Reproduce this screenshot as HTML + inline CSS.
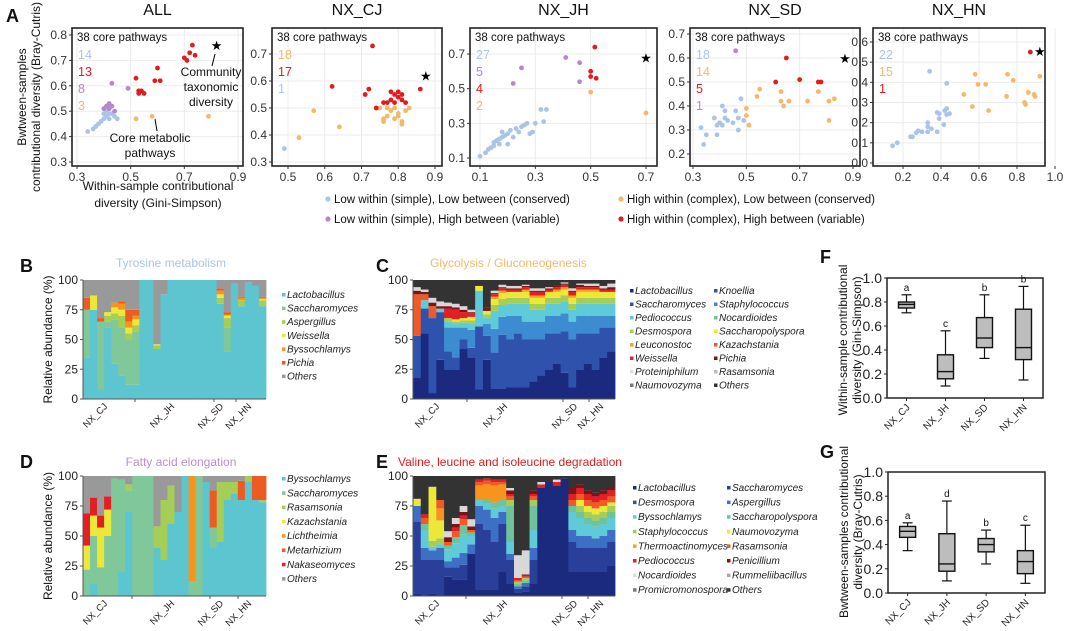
<!DOCTYPE html>
<html><head><meta charset="utf-8">
<style>
html,body{margin:0;padding:0;background:#fff;}
svg{display:block;font-family:"Liberation Sans",Arial,sans-serif;}
</style></head>
<body>
<svg id="fig" width="1080" height="631" viewBox="0 0 1080 631" xmlns="http://www.w3.org/2000/svg"></svg>
<script>
// ---------- Panel A scatter data ----------
const allX=[.34,.36,.37,.38,.39,.40,.41,.42,.43,.44,.42,.41,.40,.45, .43,.49,.41,.42,.43,.42,.44,.40, .52,.58,.79, .52,.53,.53,.54,.55,.60,.59,.61,.70,.71,.72,.73,.74];
const allY=[.42,.43,.44,.45,.46,.47,.48,.49,.49,.48,.47,.50,.49,.47, .61,.59,.52,.51,.52,.53,.50,.51, .47,.48,.48, .63,.58,.57,.58,.57,.67,.62,.62,.71,.70,.73,.76,.72];
const allG=[0,0,0,0,0,0,0,0,0,0,0,0,0,0, 1,1,1,1,1,1,1,1, 2,2,2, 3,3,3,3,3,3,3,3,3,3,3,3,3];
const cjX=[.49, .53,.57,.64,.75,.76,.76,.77,.78,.79,.80,.81,.80,.82,.83,.81,.77,.79,.76, .73,.62,.71,.72,.74,.76,.77,.78,.78,.79,.80,.80,.81,.82,.86,.79,.81];
const cjY=[.35, .39,.49,.43,.50,.46,.45,.47,.49,.46,.48,.45,.47,.49,.50,.44,.50,.50,.45, .73,.58,.55,.57,.50,.52,.52,.53,.56,.55,.54,.56,.53,.52,.57,.52,.55];
const cjG=[0, 2,2,2,2,2,2,2,2,2,2,2,2,2,2,2,2,2,2, 3,3,3,3,3,3,3,3,3,3,3,3,3,3,3,3,3];
const jhX=[.10,.12,.13,.14,.15,.15,.16,.17,.17,.18,.19,.18,.20,.21,.22,.23,.24,.25,.26,.27,.28,.29,.30,.32,.34,.33,.20, .22,.25,.41,.46,.46, .515,.50,.50,.52, .50,.70];
const jhY=[.11,.13,.15,.16,.17,.19,.20,.18,.21,.22,.23,.25,.24,.26,.22,.27,.25,.28,.29,.30,.24,.25,.30,.38,.38,.31,.18, .53,.62,.68,.65,.54, .74,.60,.57,.56, .48,.36];
const jhG=[0,0,0,0,0,0,0,0,0,0,0,0,0,0,0,0,0,0,0,0,0,0,0,0,0,0,0, 1,1,1,1,1, 3,3,3,3, 2,2];
const sdX=[.33,.34,.35,.38,.39,.39,.40,.41,.42,.42,.41,.43,.45,.46,.47,.47,.48,.49, .46, .50,.51,.50,.54,.55,.63,.63,.64,.66,.73,.77,.81,.83,.81, .61,.65,.70,.77,.78];
const sdY=[.31,.24,.28,.35,.32,.28,.33,.40,.38,.35,.32,.34,.33,.38,.35,.30,.43,.34, .63, .39,.32,.36,.44,.47,.46,.42,.40,.42,.42,.46,.42,.43,.34, .50,.60,.51,.50,.50];
const sdG=[0,0,0,0,0,0,0,0,0,0,0,0,0,0,0,0,0,0, 1, 2,2,2,2,2,2,2,2,2,2,2,2,2,2, 3,3,3,3,3];
const hnX=[.145,.17,.24,.25,.27,.28,.30,.33,.33,.33,.35,.38,.39,.38,.39,.42,.43,.43,.445,.415,.34,.43, .52,.565,.58,.595,.635,.65,.75,.745,.78,.84,.845,.86,.89,.895,.92, .87];
const hnY=[.085,.10,.13,.13,.15,.16,.155,.18,.20,.155,.17,.25,.22,.155,.245,.26,.24,.27,.245,.19,.455,.395, .34,.28,.44,.39,.39,.26,.44,.33,.41,.30,.29,.35,.34,.33,.43, .55];
const hnG=[0,0,0,0,0,0,0,0,0,0,0,0,0,0,0,0,0,0,0,0,0,0, 2,2,2,2,2,2,2,2,2,2,2,2,2,2,2, 3];
const starX=[.82,.875,.70,.87,.92];
const starY=[.76,.62,.68,.60,.555];

// ---------- Panel B ----------
const bNames=["Lactobacillus","Saccharomyces","Aspergillus","Weissella","Byssochlamys","Pichia","Others"];
const bLacto=[35,75,8,60,30,20,12,12,100,100,42,88,100,100,100,100,100,100,100,80,40,97,78,98,95,78];
const bSacch=[40,0,57,5,37,40,38,45,0,0,0,0,0,0,0,0,0,0,0,0,20,0,0,0,0,0];
const bAsper=[0,0,0,5,5,10,5,5,0,0,3,0,0,0,0,0,0,0,0,5,8,0,5,0,0,5];
const bWeiss=[0,12,0,3,5,5,5,5,0,0,1,0,0,0,0,0,0,0,0,3,2,0,0,0,0,1];
const bByss=[0,0,0,0,4,5,5,3,0,0,0,0,0,0,0,0,0,0,0,3,1,0,2,0,0,1];
const bPichia=[10,0,3,0,0,2,10,5,0,0,0,0,0,0,0,0,0,0,0,2,2,0,1,0,0,1];
const bOthers=[15,13,32,27,19,18,25,25,0,0,54,12,0,0,0,0,0,0,0,7,27,3,14,2,5,14];

// ---------- Panel D ----------
const dNames=["Byssochlamys","Saccharomyces","Rasamsonia","Kazachstania","Lichtheimia","Metarhizium","Nakaseomyces","Others"];
const dByss=[0,10,0,0,0,20,70,0,0,0,40,30,60,70,100,0,0,95,40,45,80,85,80,95,80,78];
const dSacch=[22,40,24,50,98,77,18,100,100,100,0,0,0,0,0,12,100,0,17,0,0,0,0,0,0,0];
const dRasam=[0,0,0,0,0,0,5,0,0,0,18,50,32,0,0,0,0,0,0,50,15,10,0,5,0,2];
const dKazach=[20,17,33,22,0,0,0,0,0,0,0,0,0,0,0,0,0,0,0,0,0,0,0,0,0,0];
const dLicht=[0,0,0,0,0,0,0,0,0,0,0,0,0,0,0,88,0,0,0,0,0,0,0,0,0,0];
const dMetar=[0,0,0,0,0,0,0,0,0,0,0,0,0,0,0,0,0,0,31,0,0,0,16,0,20,20];
const dNakas=[27,15,10,11,0,0,0,0,0,0,0,0,0,0,0,0,0,0,0,0,0,0,0,0,0,0];
const dOthers=[31,18,33,17,2,3,7,0,0,0,42,20,8,30,0,0,0,5,12,5,5,5,4,0,0,0];

// ---------- Panel C ----------
const cNames=["Lactobacillus","Saccharomyces","Pediococcus","Desmospora","Leuconostoc","Weissella","Proteiniphilum","Naumovozyma","Knoellia","Staphylococcus","Nocardioides","Saccharopolyspora","Kazachstania","Pichia","Rasamsonia","Others"];
const cLacto=[18,55,5,33,25,25,42,35,8,33,9,9,10,10,10,15,20,25,30,22,10,25,30,25,35,40];
const cSacch=[35,21,63,40,15,10,8,8,53,20,30,45,40,45,40,35,30,30,25,35,40,30,25,30,25,20];
const cStaph=[0,0,0,0,20,25,10,15,0,10,20,15,20,15,15,15,15,15,15,15,15,15,15,15,10,10];
const cPedio=[0,7,0,3,5,3,4,5,30,5,15,10,10,10,15,10,10,10,10,10,10,10,10,10,10,10];
const cDesmo=[0,0,0,0,3,2,2,3,0,3,5,5,5,5,5,5,5,5,5,5,5,5,5,5,5,5];
const cSaccpoly=[0,0,0,0,0,2,2,3,4,3,5,5,5,5,5,5,5,5,5,5,5,5,5,5,5,5];
const cLeuco=[0,0,0,0,0,0,0,0,0,0,2,2,0,0,2,2,2,0,2,2,2,2,2,2,0,0];
const cKazach=[35,5,10,0,0,0,0,0,0,0,0,0,0,0,0,0,0,0,0,0,0,0,0,0,0,0];
const cWeiss=[0,0,0,0,8,8,5,3,0,0,2,2,2,2,2,3,3,2,2,2,3,2,2,2,2,2];
const cPichia=[3,2,3,2,2,2,2,1,0,3,1,1,1,1,1,1,1,1,1,1,1,2,1,1,1,2];
const cProt=[3,2,4,4,3,3,3,2,0,0,2,2,2,2,1,2,2,1,0,1,2,1,2,2,2,3];
const cOthers=[6,8,15,18,19,20,22,25,5,23,9,4,5,5,4,7,7,6,5,2,7,3,3,3,5,3];

// ---------- Panel E ----------
const eNames=["Lactobacillus","Desmospora","Byssochlamys","Staphylococcus","Thermoactinomyces","Pediococcus","Nocardioides","Promicromonospora","Saccharomyces","Aspergillus","Saccharopolyspora","Naumovozyma","Rasamsonia","Penicillium","Rummeliibacillus","Others"];
const eLacto=[2,0,2,0,16,14,14,35,5,5,5,20,10,3,4,10,90,95,92,98,20,20,20,20,20,25];
const eSacch=[60,30,28,30,8,10,12,0,55,50,40,40,20,3,4,20,0,0,0,0,25,20,20,20,20,20];
const eAsper=[13,10,8,10,5,8,10,8,15,17,20,10,5,2,3,10,0,0,0,0,10,10,10,8,10,10];
const eByss=[0,15,3,3,10,12,15,7,5,5,8,5,10,0,0,15,0,0,0,0,15,15,10,10,10,10];
const eSaccpoly=[0,5,0,0,3,5,8,3,0,3,5,5,30,2,2,20,0,0,0,0,5,5,5,5,5,5];
const eStaph=[0,0,5,5,0,0,0,0,0,0,0,0,5,2,2,5,0,0,0,0,0,5,5,5,5,5];
const eNaumo=[6,0,45,15,0,0,0,0,0,0,0,0,0,0,0,0,0,0,0,0,0,5,5,5,5,3];
const eThermo=[0,0,0,10,0,0,0,0,12,13,14,13,0,0,0,0,0,0,0,0,0,0,0,0,0,0];
const eRasam=[0,5,0,7,3,5,5,2,3,3,3,2,3,1,1,3,0,0,0,0,5,5,5,5,5,5];
const ePedio=[0,3,0,0,0,3,3,0,2,2,2,2,2,2,1,2,3,0,3,0,5,5,5,5,5,5];
const ePenic=[0,0,0,0,4,3,3,3,0,0,0,0,3,0,1,3,0,0,0,0,5,3,3,3,3,2];
const eNocard=[0,0,0,0,5,5,5,6,0,0,0,0,2,19,20,0,2,0,2,0,0,0,0,0,0,0];
const eOthers=[19,32,9,20,46,35,25,36,3,2,3,3,10,66,62,12,5,5,3,2,10,7,12,14,12,10];

// ---------- Panels F, G ----------
const boxCats=["NX_CJ","NX_JH","NX_SD","NX_HN"];
const fMin=[.71,.10,.33,.15], fQ1=[.75,.16,.42,.32], fMed=[.78,.22,.50,.42], fQ3=[.80,.36,.67,.74], fMax=[.86,.56,.86,.93];
const fLetters=["a","c","b","b"];
const gMin=[.35,.10,.24,.08], gQ1=[.46,.18,.34,.16], gMed=[.51,.24,.40,.26], gQ3=[.55,.49,.45,.35], gMax=[.58,.76,.52,.56];
const gLetters=["a","d","b","c"];
const boxTicks=[0,0.2,0.4,0.6,0.8,1.0];
const barTicks=[0,25,50,75,100];

// ================= drawing =================
const NS='http://www.w3.org/2000/svg';
const svg=document.getElementById('fig');
function mk(tag,attrs,parent){const e=document.createElementNS(NS,tag);for(const k in attrs)e.setAttribute(k,attrs[k]);(parent||svg).appendChild(e);return e;}
function txt(x,y,s,size,extra,parent){const e=mk('text',Object.assign({x:x,y:y,'font-size':size,fill:'#111'},extra||{}),parent);e.textContent=s;return e;}
function lin(a,b,c,d){return v=>c+(v-a)/(b-a)*(d-c);}

[["A",6,22],["B",20,272],["C",376,272],["D",20,468],["E",376,468],["F",820,263],["G",820,458]].forEach(p=>{
  const t=txt(p[1],p[2],p[0],18,{'font-weight':'bold'});
  
  
});

const catColors=['#a9c4e8','#b586cc','#f5b86b','#e41a1c'];
const scatterPanels=[
 {id:'all',title:'ALL',box:[72,28,243,166],xs:[0.3,0.9,77,238],ys:[0.3,0.8,162,35],xt:[0.3,0.5,0.7,0.9],yt:[0.3,0.4,0.5,0.6,0.7,0.8],X:allX,Y:allY,G:allG,counts:[['14',0],['13',3],['8',1],['3',2]]},
 {id:'nx-cj',title:'NX_CJ',box:[272,28,442,166],xs:[0.5,0.9,288,435],ys:[0.3,0.7,162,54],xt:[0.5,0.6,0.7,0.8,0.9],yt:[0.3,0.4,0.5,0.6,0.7],X:cjX,Y:cjY,G:cjG,counts:[['18',2],['17',3],['1',0]]},
 {id:'nx-jh',title:'NX_JH',box:[470,28,657,166],xs:[0.1,0.7,480,646],ys:[0.1,0.7,158,54],xt:[0.1,0.3,0.5,0.7],yt:[0.1,0.3,0.5,0.7],X:jhX,Y:jhY,G:jhG,counts:[['27',0],['5',1],['4',3],['2',2]]},
 {id:'nx-sd',title:'NX_SD',box:[690,28,860,166],xs:[0.3,0.9,693,853],ys:[0.2,0.7,154,34],xt:[0.3,0.5,0.7,0.9],yt:[0.2,0.3,0.4,0.5,0.6,0.7],X:sdX,Y:sdY,G:sdG,counts:[['18',0],['14',2],['5',3],['1',1]]},
 {id:'nx-hn',title:'NX_HN',box:[873,28,1045,166],xs:[0.2,1.0,903,1055],ys:[0,0.6,163,42],xt:[0.2,0.4,0.6,0.8,1.0],yt:[0,0.1,0.2,0.3,0.4,0.5,0.6],X:hnX,Y:hnY,G:hnG,counts:[['22',0],['15',2],['1',3]]}
];
scatterPanels.forEach((p,pi)=>{
  const g=mk('g',{});
  
  
  const [x0,y0,x1,y1]=p.box;
  const sx=lin(...p.xs), sy=lin(...p.ys);
  const t=txt((x0+x1)/2,15,p.title,16,{'text-anchor':'middle'},g);
  
  
  p.xt.forEach(v=>{mk('line',{x1:sx(v),x2:sx(v),y1:y0,y2:y1,stroke:'#ebebeb','stroke-width':1},g);});
  p.yt.forEach(v=>{mk('line',{x1:x0,x2:x1,y1:sy(v),y2:sy(v),stroke:'#ebebeb','stroke-width':1},g);});
  const fr=mk('rect',{x:x0,y:y0,width:x1-x0,height:y1-y0,fill:'none',stroke:'#222','stroke-width':1.6},g);
  
  
  p.xt.forEach(v=>{mk('line',{x1:sx(v),x2:sx(v),y1:y1,y2:y1+3,stroke:'#333'},g);
    const tl=txt(sx(v),y1+15,v.toFixed(1),12,{'text-anchor':'middle',fill:'#333'},g);
    
    });
  p.yt.forEach(v=>{mk('line',{x1:x0-3,x2:x0,y1:sy(v),y2:sy(v),stroke:'#333'},g);
    const tl=txt(x0-5,sy(v)+4,v.toFixed(1),12,{'text-anchor':'end',fill:'#333'},g);
    
    });
  const ct=txt(x0+5,y0+13,'38 core pathways',11.5,{},g);
  
  
  p.counts.forEach((c,i)=>{const e=txt(x0+6,y0+31+i*17,c[0],12.5,{fill:catColors[c[1]]},g);
    
    });
  p.X.forEach((v,i)=>{const d=mk('circle',{cx:sx(v),cy:sy(p.Y[i]),r:2.4,fill:catColors[p.G[i]]},g);
    
    });
  const st=txt(sx(starX[pi]),sy(starY[pi])+5,'★',13,{'text-anchor':'middle',fill:'#000'},g);
  
  
});
mk('line',{x1:215,y1:54,x2:212,y2:66,stroke:'#000','stroke-width':1});
mk('line',{x1:155,y1:119,x2:157,y2:131,stroke:'#000','stroke-width':1});
['Community','taxonomic','diversity'].forEach((s,i)=>{const e=txt(211,76+i*15,s,12,{'text-anchor':'middle'});
  
  });
['Core metabolic','pathways'].forEach((s,i)=>{const e=txt(150,142+i*15,s,12,{'text-anchor':'middle'});
  
  });
[['Bwtween-samples',26],['contributional diversity (Bray-Cutris)',40]].forEach(a=>{
  const e=txt(a[1],97,a[0],12,{'text-anchor':'middle',transform:'rotate(-90 '+a[1]+' 97)'});
  
  });
[['Within-sample contributional',190],['diversity (Gini-Simpson)',207]].forEach(a=>{
  const e=txt(158,a[1],a[0],12,{'text-anchor':'middle'});
  
  });
[[328,203,0,'Low within (simple), Low between (conserved)'],[621,203,2,'High within (complex), Low between (conserved)'],
 [328,223,1,'Low within (simple), High between (variable)'],[621,223,3,'High within (complex), High between (variable)']].forEach(l=>{
  const g=mk('g',{});
  
  
  mk('circle',{cx:l[0],cy:l[1]-4,r:2.6,fill:catColors[l[2]]},g);
  txt(l[0]+6,l[1],l[3],11.5,{},g);
});

function stacked(cfg){
  const g=mk('g',{});
  
  
  const [x0,y0,x1,y1]=cfg.box;
  const sy=lin(0,100,y1,y0);
  const n=cfg.series[0].length, w=(x1-x0)/n;
  for(let i=0;i<n;i++){
    let acc=0;
    cfg.series.forEach((s,k)=>{
      const v=s[i]; if(v<=0) return;
      const r=mk('rect',{x:(x0+i*w).toFixed(2),y:sy(acc+v),width:(w+0.4).toFixed(2),height:(sy(acc)-sy(acc+v)).toFixed(2),fill:cfg.colors[k]},g);
      
      
      acc+=v;
    });
  }
  mk('line',{x1:x0,x2:x0,y1:y0,y2:y1,stroke:'#555'},g);
  mk('line',{x1:x0,x2:x1,y1:y1,y2:y1,stroke:'#555'},g);
  barTicks.forEach(v=>{mk('line',{x1:x0-3,x2:x0,y1:sy(v),y2:sy(v),stroke:'#555'},g);
    const tl=txt(x0-5,sy(v)+4,String(v),12,{'text-anchor':'end',fill:'#222'},g);
    
    });
  cfg.ticks.forEach(x=>mk('line',{x1:x,x2:x,y1:y1,y2:y1+3,stroke:'#555'},g));
  cfg.groupX.forEach((x,i)=>{const t=txt(x,y1+8,boxCats[i],9.5,{'text-anchor':'end',transform:'rotate(-45 '+x+' '+(y1+8)+')',fill:'#222'},g);
    
    });
  const tt=txt(cfg.title[1],cfg.title[2],cfg.title[0],12,{'text-anchor':cfg.title[4],fill:cfg.title[3]},g);
  
  
  if(cfg.ylabel){const yl=txt(52,(y0+y1)/2,'Relative abundance (%)',12,{'text-anchor':'middle',transform:'rotate(-90 52 '+((y0+y1)/2)+')'},g);
    
    }
  cfg.legend.forEach((l,i)=>{
    const col=Math.floor(i/cfg.rows), row=i%cfg.rows;
    const lx=cfg.lx[col], ly=cfg.ly+row*cfg.lstep;
    const le=mk('g',{},g);
    
    
    mk('rect',{x:lx,y:ly-5,width:3.5,height:3.5,fill:l[1]},le);
    txt(lx+5,ly,l[0],10,{'font-style':'italic',fill:'#222'},le);
  });
}
const bCols=['#5cc5d0','#80c79a','#a5cd57','#ece83a','#f7941d','#ee5a24','#999999'];
stacked({name:'tyrosine-metabolism-bars',box:[83,280,266,399],series:[bLacto,bSacch,bAsper,bWeiss,bByss,bPichia,bOthers],colors:bCols,
  ticks:[135,214,236],groupX:[108,175,224,252],title:['Tyrosine metabolism',171,267,'#a9c4e8','middle'],ylabel:true,
  legend:bNames.map((n,i)=>[n,bCols[i]]),rows:7,lx:[282],ly:298,lstep:13.6});
const dCols=['#5cc5d0','#80c79a','#a5cd57','#ece83a','#f7941d','#ee5a24','#e31e24','#999999'];
stacked({name:'fatty-acid-elongation-bars',box:[83,476,266,596],series:[dByss,dSacch,dRasam,dKazach,dLicht,dMetar,dNakas,dOthers],colors:dCols,
  ticks:[132,210,238],groupX:[108,175,224,252],title:['Fatty acid elongation',181,466,'#b88fcf','middle'],ylabel:true,
  legend:dNames.map((n,i)=>[n,dCols[i]]),rows:8,lx:[282],ly:482,lstep:14.3});
const cColsStack=['#1b2a7e','#2f53ad','#3d8bd0','#5fcbd8','#a5cd57','#ece83a','#f7a21d','#f05a28','#e31e24','#7b1416','#d8d8d8','#333333'];
const cLegCols=['#1b2a7e','#2f53ad','#5fcbd8','#a5cd57','#f7a21d','#e31e4a','#dddddd','#777777','#3b4ea0','#3d8bd0','#6fc0a0','#ece83a','#f05a28','#7b1416','#bbbbbb','#333333'];
stacked({name:'glycolysis-bars',box:[413,280,615,399],series:[cLacto,cSacch,cStaph,cPedio,cDesmo,cSaccpoly,cLeuco,cKazach,cWeiss,cPichia,cProt,cOthers],colors:cColsStack,
  ticks:[467,563,589],groupX:[440,508,578,604],title:['Glycolysis / Gluconeogenesis',430,267,'#f5b86b','start'],ylabel:false,
  legend:cNames.map((n,i)=>[n,cLegCols[i]]),rows:8,lx:[630,714],ly:294,lstep:13.5});
const eColsStack=['#1b2a7e','#2a3f9a','#3d6fc4','#5fcbd8','#6fc29a','#a5cd57','#ece83a','#f7941d','#f05a28','#e31e24','#7b1416','#d8d8d8','#333333'];
const eLegCols=['#1b2a7e','#2f53ad','#5fcbd8','#a5cd57','#f7a21d','#e31e24','#dddddd','#777777','#2a3f9a','#3d6fc4','#6fc29a','#ece83a','#f05a28','#7b1416','#aaaaaa','#333333'];
stacked({name:'valine-leucine-bars',box:[413,476,615,596],series:[eLacto,eSacch,eAsper,eByss,eSaccpoly,eStaph,eNaumo,eThermo,eRasam,ePedio,ePenic,eNocard,eOthers],colors:eColsStack,
  ticks:[466,562,588],groupX:[440,508,578,604],title:['Valine, leucine and isoleucine degradation',398,466,'#e41a1c','start'],ylabel:false,
  legend:eNames.map((n,i)=>[n,eLegCols[i]]),rows:8,lx:[633,727],ly:491,lstep:14.6});

function boxplot(cfg){
  const g=mk('g',{});
  
  
  const [x0,y0,x1,y1]=cfg.box;
  const sy=lin(0,1,y1,y0);
  const cx=i=>x0+(x1-x0)*(i+0.5)/boxCats.length;
  mk('rect',{x:x0,y:y0,width:x1-x0,height:y1-y0,fill:'none',stroke:'#222','stroke-width':1.5},g);
  boxTicks.forEach(v=>{mk('line',{x1:x0-3,x2:x0,y1:sy(v),y2:sy(v),stroke:'#222'},g);
    const tl=txt(x0-5,sy(v)+5,v.toFixed(1),14,{'text-anchor':'end',fill:'#222'},g);
    
    });
  boxCats.forEach((c,i)=>{
    const x=cx(i);
    mk('line',{x1:x,x2:x,y1:y1,y2:y1+3,stroke:'#222'},g);
    const tl=txt(x+4,y1+10,c,10,{'text-anchor':'end',transform:'rotate(-45 '+(x+4)+' '+(y1+10)+')',fill:'#222'},g);
    
    
    const b=mk('g',{},g);
    
    
    mk('line',{x1:x,x2:x,y1:sy(cfg.max[i]),y2:sy(cfg.min[i]),stroke:'#111','stroke-width':1.2},b);
    mk('line',{x1:x-5,x2:x+5,y1:sy(cfg.max[i]),y2:sy(cfg.max[i]),stroke:'#111','stroke-width':1.2},b);
    mk('line',{x1:x-5,x2:x+5,y1:sy(cfg.min[i]),y2:sy(cfg.min[i]),stroke:'#111','stroke-width':1.2},b);
    mk('rect',{x:x-8,y:sy(cfg.q3[i]),width:16,height:sy(cfg.q1[i])-sy(cfg.q3[i]),fill:'#bdbdbd',stroke:'#111','stroke-width':1.4},b);
    mk('line',{x1:x-8,x2:x+8,y1:sy(cfg.med[i]),y2:sy(cfg.med[i]),stroke:'#111','stroke-width':1.4},b);
    txt(x,sy(cfg.max[i])-4,cfg.letters[i],10,{'text-anchor':'middle'},b);
  });
  cfg.ylab.forEach(a=>{const e=txt(a[1],cfg.yc,a[0],12,{'text-anchor':'middle',transform:'rotate(-90 '+a[1]+' '+cfg.yc+')'},g);
    
    });
}
boxplot({name:'within-sample-boxplot',box:[887,278,1043,398],min:fMin,q1:fQ1,med:fMed,q3:fQ3,max:fMax,letters:fLetters,yc:340,
  ylab:[['Within-sample contributional',847],['diversity (Gini-Simpson)',861]]});
boxplot({name:'between-samples-boxplot',box:[888,472,1045,593],min:gMin,q1:gQ1,med:gMed,q3:gQ3,max:gMax,letters:gLetters,yc:532,
  ylab:[['Bwtween-samples contributional',848],['diversity (Bray-Cutris)',862]]});
</script>
</body></html>
